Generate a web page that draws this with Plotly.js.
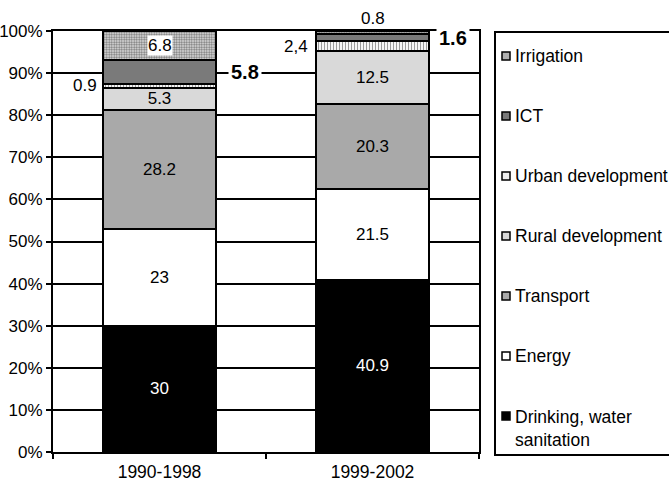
<!DOCTYPE html>
<html>
<head>
<meta charset="utf-8">
<script src="https://cdn.plot.ly/plotly-3.0.1.min.js"></script>
<style>html,body{margin:0;padding:0;background:#fff;}#chart{width:669px;height:484px;}</style>
</head>
<body>
<div id="chart"></div>
<script>
// ---- data ----
const categories = ['1990-1998', '1999-2002'];
const seriesNames = ['Drinking, water sanitation', 'Energy', 'Transport', 'Rural development', 'Urban development', 'ICT', 'Irrigation'];
const legendLabels = ['Drinking, water<br>sanitation', 'Energy', 'Transport', 'Rural development', 'Urban development', 'ICT', 'Irrigation'];
const drinking   = [30, 40.9];
const energy     = [23, 21.5];
const transport  = [28.2, 20.3];
const rural      = [5.3, 12.5];
const urban      = [0.9, 2.4];
const ict        = [5.8, 1.6];
const irrigation = [6.8, 0.8];
const valueLabels = {
  drinking: ['30', '40.9'], energy: ['23', '21.5'], transport: ['28.2', '20.3'],
  rural: ['5.3', '12.5'], urban: ['0.9', '2,4'], ict: ['5.8', '1.6'], irrigation: ['6.8', '0.8']
};
const yTicks = [0, 10, 20, 30, 40, 50, 60, 70, 80, 90, 100];

// ---- styling ----
const seriesValues = [drinking, energy, transport, rural, urban, ict, irrigation];
const seriesKeys = ['drinking', 'energy', 'transport', 'rural', 'urban', 'ict', 'irrigation'];
const fills = ['#000000', '#ffffff', '#a9a9a9', '#d9d9d9', '#ffffff', '#7a7a7a', '#cfcfcf'];
const swatch = ['#000000', '#ffffff', '#a9a9a9', '#d9d9d9', '#eeeeee', '#7a7a7a', '#b0b0b0'];
const patterns = [null, null, null, null,
  {shape: '|', fgcolor: '#9a9a9a', bgcolor: '#ffffff', size: 3, solidity: 0.4},
  null,
  {shape: '.', fgcolor: '#777777', bgcolor: '#e8e8e8', size: 2.5, solidity: 0.5}];
const insideLabel = [true, true, true, true, false, false, false];
const FONT = 'Liberation Sans, Arial, sans-serif';

const traces = seriesValues.map((vals, i) => {
  const marker = {color: fills[i], line: {color: '#000', width: 2}};
  if (patterns[i]) marker.pattern = patterns[i];
  return {
    type: 'bar', x: categories, y: vals, name: seriesNames[i],
    marker: marker,
    text: insideLabel[i] ? valueLabels[seriesKeys[i]] : ['', ''],
    textposition: 'inside', insidetextanchor: 'middle', textangle: 0,
    constraintext: 'none',
    textfont: {family: FONT, size: 17, color: i === 0 ? '#fff' : '#000'},
    hoverinfo: 'skip', showlegend: false
  };
});

// cumulative helpers (from data)
function cumBelow(k, c) { let s = 0; for (let j = 0; j < k; j++) s += seriesValues[j][c]; return s; }
function mid(k, c) { return cumBelow(k, c) + seriesValues[k][c] / 2; }

const annotations = [
  {x: 0, y: mid(6, 0), text: valueLabels.irrigation[0], showarrow: false, bgcolor: '#fff',
   font: {family: FONT, size: 17, color: '#000'}, borderpad: 0},
  {x: 0.40, y: mid(5, 0), text: '<b>' + valueLabels.ict[0] + '</b>', showarrow: false, bgcolor: '#fff',
   font: {family: FONT, size: 20, color: '#000'}, borderpad: 2},
  {x: -0.35, y: mid(4, 0), text: valueLabels.urban[0], showarrow: false, bgcolor: '#fff',
   font: {family: FONT, size: 17, color: '#000'}, borderpad: 1},
  {x: 0.64, y: mid(4, 1), text: valueLabels.urban[1], showarrow: false, bgcolor: '#fff',
   font: {family: FONT, size: 17, color: '#000'}, borderpad: 1},
  {x: 1, y: 100, yanchor: 'bottom', yshift: 1, text: valueLabels.irrigation[1], showarrow: false,
   font: {family: FONT, size: 17, color: '#000'}},
  {x: 1.38, y: mid(5, 1), text: '<b>' + valueLabels.ict[1] + '</b>', showarrow: false, bgcolor: '#fff',
   font: {family: FONT, size: 20, color: '#000'}, borderpad: 2}
];

// ---- manual legend ----
const L = 53, R = 479, T = 31, B = 452;
const pxX = p => (p - L) / (R - L);
const pxY = p => (B - p) / (B - T);
const shapes = [
  {type: 'rect', xref: 'paper', yref: 'paper', x0: pxX(495), x1: pxX(720), y0: pxY(455), y1: pxY(32),
   line: {color: '#000', width: 2}, fillcolor: '#fff', layer: 'below'}
];
for (let k = 0; k < seriesNames.length; k++) {
  const i = seriesNames.length - 1 - k;
  const cy = 56 + 60 * k;
  shapes.push({type: 'rect', xref: 'paper', yref: 'paper', x0: pxX(502), x1: pxX(510), y0: pxY(cy + 4), y1: pxY(cy - 4),
    line: {color: '#000', width: 1.5}, fillcolor: swatch[i]});
  const multi = legendLabels[i].indexOf('<br>') >= 0;
  annotations.push({xref: 'paper', yref: 'paper', x: pxX(513), y: pxY(multi ? cy - 11 : cy),
    xanchor: 'left', yanchor: multi ? 'top' : 'middle', align: 'left',
    text: legendLabels[i], showarrow: false, font: {family: FONT, size: 17.5, color: '#000'}});
}

const layout = {
  width: 669, height: 484,
  margin: {l: L, r: 669 - R, t: T, b: 484 - B, pad: 0},
  paper_bgcolor: '#fff', plot_bgcolor: '#fff',
  barmode: 'stack', bargap: 0.47,
  showlegend: false,
  xaxis: {
    type: 'category', showgrid: false, showline: true, linecolor: '#000', linewidth: 2, mirror: true,
    ticks: 'outside', tickson: 'boundaries', ticklen: 5, tickwidth: 2, tickcolor: '#000',
    ticklabelstandoff: 3,
    tickfont: {family: FONT, size: 17.5, color: '#000'}
  },
  yaxis: {
    range: [0, 100], tickvals: yTicks, ticktext: yTicks.map(v => v + '%'),
    showgrid: true, gridcolor: '#000', gridwidth: 2,
    showline: true, linecolor: '#000', linewidth: 2, mirror: true,
    ticks: 'outside', ticklen: 5, tickwidth: 2, tickcolor: '#000',
    tickfont: {family: FONT, size: 17, color: '#000'}, zeroline: false
  },
  annotations: annotations,
  shapes: shapes
};

Plotly.newPlot('chart', traces, layout, {staticPlot: true, displayModeBar: false});
</script>
</body>
</html>
